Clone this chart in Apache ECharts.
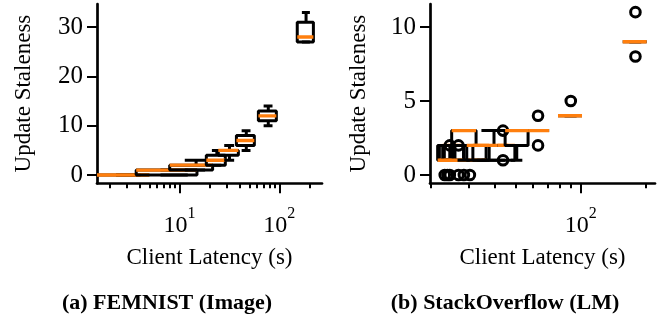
<!DOCTYPE html>
<html>
<head>
<meta charset="utf-8">
<script src="https://cdn.jsdelivr.net/npm/echarts@6/dist/echarts.min.js"></script>
<style>
  html, body { margin: 0; padding: 0; background: #ffffff; }
  #chart { width: 672px; height: 322px; }
</style>
</head>
<body>
<div id="chart"></div>
<script>
// ---- FEMNIST (Image): one box per latency bin ----
const femnistLatencyLow  = [1.5, 3.7, 8.0, 18.6, 24.5, 37.2, 61.7, 151];
const femnistLatencyHigh = [5.0, 15.0, 21.5, 28.8, 38.9, 56.2, 93.3, 219];
const femnistLatencyPos  = [3.2, 9.3, 14.7, 23.7, 31.7, 46.7, 77.5, 185];
const femnistWhiskerLow  = [0, 0, 1, 2, 3, 5, 10, 27];
const femnistQ1          = [0, 0, 1, 2, 4, 6, 11, 27];
const femnistMedian      = [0, 1, 2, 3, 5, 7, 12, 28];
const femnistQ3          = [0, 1, 2, 4, 5, 8, 13, 31];
const femnistWhiskerHigh = [0, 1, 3, 5, 6, 9, 14, 33];
const femnistOutliers    = [[], [], [], [], [], [], [], []];

// ---- StackOverflow (LM) ----
const stackLatencyLow  = [22.0, 22.8, 23.2, 25.5, 21.6, 25.1, 31.5, 29.5, 41.0, 44.5, 56.9, 78.4, 156.8];
const stackLatencyHigh = [24.6, 25.2, 26.0, 28.5, 36.3, 32.6, 37.5, 49.4, 46.0, 56.9, 71.3, 101.4, 202.6];
const stackLatencyPos  = [23.3, 24.0, 24.6, 27.0, 30.5, 28.6, 34.5, 39.5, 43.5, 50.4, 63.3, 89.9, 179.7];
const stackWhiskerLow  = [1, 1, 1, 1, 1, 1, 1, 1, 2, 1, 3, 4, 9];
const stackQ1          = [1, 1, 1, 1, 1, 2, 1, 1, 2, 2, 3, 4, 9];
const stackMedian      = [1, 2, 1, 2, 1, 3, 2, 2, 2, 3, 3, 4, 9];
const stackQ3          = [2, 2, 2, 2, 2, 3, 2, 2, 2, 3, 3, 4, 9];
const stackWhiskerHigh = [2, 2, 2, 2, 2, 3, 2, 3, 2, 3, 3, 4, 9];
const stackOutliers    = [[0], [0], [0, 2], [0, 2], [0], [0], [], [], [1, 3], [], [2, 4], [5], [8, 11]];

// ---- axis ticks ----
const femnistYTicks = [0, 10, 20, 30];
const stackYTicks   = [0, 5, 10];
const femnistMajorX = [10, 100];
const femnistMinorX = [2, 3, 4, 5, 6, 7, 8, 9, 20, 30, 40, 50, 60, 70, 80, 90, 200];
const stackMajorX   = [100];
const stackMinorX   = [20, 30, 40, 50, 60, 70, 80, 90, 200];

const SERIF = '"Liberation Serif", "DejaVu Serif", serif';
const BOX_COLOR = '#000000';
const MEDIAN_COLOR = '#ff7f0e';

function boxRows(pos, lo, hi, wl, q1, med, q3, wh) {
  return pos.map((p, i) => [p, lo[i], hi[i], wl[i], q1[i], med[i], q3[i], wh[i]]);
}

function makeRenderer(outliers) {
  return function (params, api) {
    const pos = api.value(0), lo = api.value(1), hi = api.value(2);
    const wl = api.value(3), q1 = api.value(4), med = api.value(5);
    const q3 = api.value(6), wh = api.value(7);
    const c = (x, y) => api.coord([x, y]);
    const capHalf = (hi - lo) / 4;
    const lineStyle = { stroke: BOX_COLOR, lineWidth: 3, fill: null };
    const children = [];
    const seg = (a, b, style) => children.push({
      type: 'line',
      shape: { x1: a[0], y1: a[1], x2: b[0], y2: b[1] },
      style: style
    });
    // whiskers
    seg(c(pos, q1), c(pos, wl), lineStyle);
    seg(c(pos, q3), c(pos, wh), lineStyle);
    // caps
    seg(c(pos - capHalf, wl), c(pos + capHalf, wl), lineStyle);
    seg(c(pos - capHalf, wh), c(pos + capHalf, wh), lineStyle);
    // box
    children.push({
      type: 'polygon',
      shape: { points: [c(lo, q1), c(hi, q1), c(hi, q3), c(lo, q3)] },
      style: { stroke: BOX_COLOR, lineWidth: 3, fill: null, lineJoin: 'bevel' }
    });
    // median
    seg(c(lo, med), c(hi, med), { stroke: MEDIAN_COLOR, lineWidth: 3.4 });
    // outliers
    (outliers[params.dataIndex] || []).forEach(v => {
      const p = c(pos, v);
      children.push({
        type: 'circle',
        shape: { cx: p[0], cy: p[1], r: 4.8 },
        style: { stroke: BOX_COLOR, lineWidth: 3, fill: null }
      });
    });
    return { type: 'group', children: children };
  };
}

function xAxes(gridIndex, min, max, major, minor) {
  const base = {
    type: 'log', logBase: 10, gridIndex: gridIndex, min: min, max: max,
    position: 'bottom', splitLine: { show: false }, minorTick: { show: false }
  };
  return [
    Object.assign({}, base, {
      axisLine: { show: true, onZero: false, lineStyle: { color: '#000', width: 2.7 } },
      axisTick: { show: true, customValues: major, length: 10, lineStyle: { color: '#000', width: 2 } },
      axisLabel: {
        show: true, customValues: major, margin: 22,
        formatter: v => '{b|10}{s|' + Math.round(Math.log10(v)) + '}',
        rich: {
          b: { fontFamily: SERIF, fontSize: 24, color: '#000', lineHeight: 32, verticalAlign: 'bottom' },
          s: { fontFamily: SERIF, fontSize: 16, color: '#000', lineHeight: 32, verticalAlign: 'top' }
        }
      }
    }),
    Object.assign({}, base, {
      axisLine: { show: false, onZero: false },
      axisTick: { show: true, customValues: minor, length: 5, lineStyle: { color: '#000', width: 2 } },
      axisLabel: { show: false }
    })
  ];
}

function yAxis(gridIndex, min, max, ticks) {
  return {
    type: 'value', gridIndex: gridIndex, min: min, max: max,
    splitLine: { show: false },
    axisLine: { show: true, onZero: false, lineStyle: { color: '#000', width: 2.7 } },
    axisTick: { show: true, customValues: ticks, length: 10, lineStyle: { color: '#000', width: 2 } },
    axisLabel: { show: true, customValues: ticks, margin: 14, fontFamily: SERIF, fontSize: 25, color: '#000' }
  };
}

const chart = echarts.init(document.getElementById('chart'), null, { renderer: 'canvas' });

const textStyle = (text, x, y, extra) => ({
  type: 'text', x: x, y: y,
  style: Object.assign({ text: text, fill: '#000', font: '23px ' + SERIF, textAlign: 'center', textVerticalAlign: 'middle' }, extra || {})
});

chart.setOption({
  animation: false,
  backgroundColor: '#ffffff',
  grid: [
    { left: 97, top: 4, width: 225, height: 179.3 },
    { left: 430, top: 4, width: 225, height: 179.3 }
  ],
  xAxis: [].concat(
    xAxes(0, 1.5, 267, femnistMajorX, femnistMinorX),
    xAxes(1, 19.9, 221.6, stackMajorX, stackMinorX)
  ),
  yAxis: [
    yAxis(0, -1.68, 34.7, femnistYTicks),
    yAxis(1, -0.56, 11.55, stackYTicks)
  ],
  series: [
    {
      type: 'custom', name: 'FEMNIST (Image)', xAxisIndex: 0, yAxisIndex: 0,
      clip: true,
      renderItem: makeRenderer(femnistOutliers),
      encode: { x: [0, 1, 2], y: [3, 4, 5, 6, 7] },
      data: boxRows(femnistLatencyPos, femnistLatencyLow, femnistLatencyHigh,
        femnistWhiskerLow, femnistQ1, femnistMedian, femnistQ3, femnistWhiskerHigh)
    },
    {
      type: 'custom', name: 'StackOverflow (LM)', xAxisIndex: 2, yAxisIndex: 1,
      clip: true,
      renderItem: makeRenderer(stackOutliers),
      encode: { x: [0, 1, 2], y: [3, 4, 5, 6, 7] },
      data: boxRows(stackLatencyPos, stackLatencyLow, stackLatencyHigh,
        stackWhiskerLow, stackQ1, stackMedian, stackQ3, stackWhiskerHigh)
    }
  ],
  graphic: [
    textStyle('Update Staleness', 24, 93.6, {}),
    textStyle('Update Staleness', 359, 93.6, {}),
    textStyle('Client Latency (s)', 209.5, 258),
    textStyle('Client Latency (s)', 542.5, 258),
    textStyle('(a) FEMNIST (Image)', 167, 303, { font: 'bold 22px ' + SERIF }),
    textStyle('(b) StackOverflow (LM)', 505, 303, { font: 'bold 22px ' + SERIF })
  ].map((g, i) => (i < 2 ? Object.assign(g, { rotation: Math.PI / 2 }) : g))
});
</script>
</body>
</html>
